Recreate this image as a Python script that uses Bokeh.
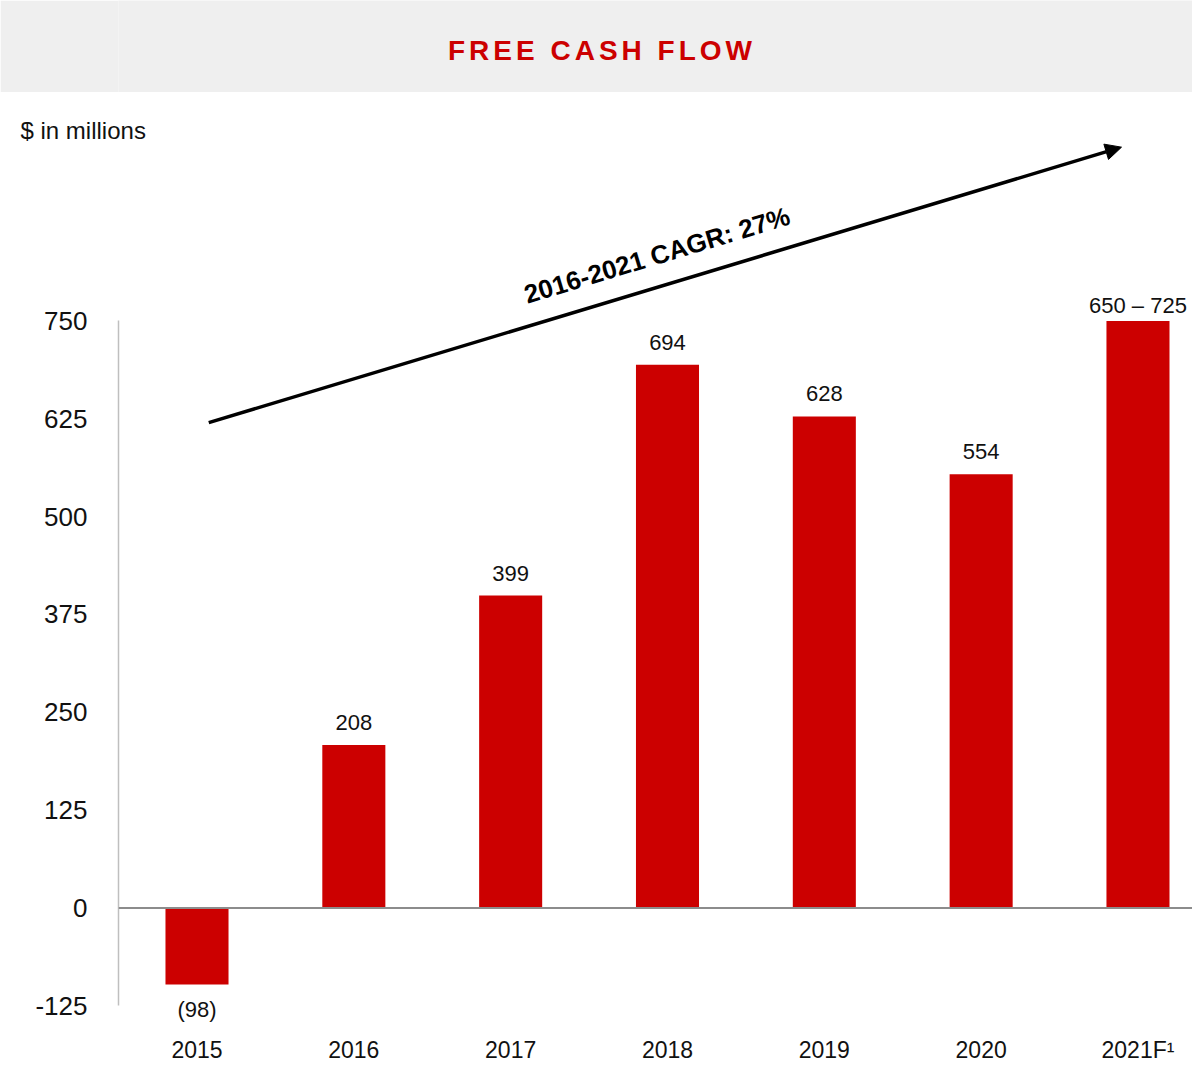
from bokeh.plotting import figure
from bokeh.models import (Range1d, FixedTicker, Span, LabelSet, Label, Arrow,
                          NormalHead, ColumnDataSource)
from bokeh.layouts import column
from bokeh.embed import file_html
from bokeh.resources import INLINE
from bokeh.core.properties import value

# ---------------- data ----------------
years = ["2015", "2016", "2017", "2018", "2019", "2020", "2021F"]
year_tick_labels = ["2015", "2016", "2017", "2018", "2019", "2020", "2021F¹"]
fcf = [-98, 208, 399, 694, 628, 554, 750]
bar_labels = ["(98)", "208", "399", "694", "628", "554", "650 – 725"]
y_ticks = [-125, 0, 125, 250, 375, 500, 625, 750]
title_text = "FREE CASH FLOW"
unit_text = "$ in millions"
cagr_text = "2016-2021 CAGR: 27%"

# ---------------- style / geometry ----------------
FONT = "Liberation Sans"
RED = "#cc0000"
INK = "#111111"
W = 1192
TITLE_H = 92
MAIN_H = 1065 - TITLE_H
LEFT = 118
TOP = 49
BOTTOM = 38
K = 0.7853            # px per $m
ZERO_Y = 910          # page y of the zero line
SLOT = 156.83         # px per category
X0 = 196.5            # page x of first category

frame_top = TITLE_H + TOP
frame_bot = TITLE_H + MAIN_H - BOTTOM
y_top = (ZERO_Y - frame_top) / K
y_bot = (ZERO_Y - frame_bot) / K
x_lo = (LEFT - X0) / SLOT
x_hi = (W - X0) / SLOT
xs = list(range(len(years)))
xr = Range1d(x_lo, x_hi)

# ---------------- title band ----------------
t = figure(width=W, height=TITLE_H, x_range=xr, y_range=Range1d(0, 1),
           toolbar_location=None, output_backend="svg",
           x_axis_location=None, y_axis_location=None,
           min_border_left=LEFT, min_border_right=0, min_border_top=0,
           min_border_bottom=0,
           background_fill_color="#efefef", border_fill_color="#efefef",
           outline_line_color=None)
t.grid.visible = False
t.add_layout(Label(x=(601.5 - X0) / SLOT, y=0.5, x_offset=-28, y_offset=-4,
                   text=title_text, text_align="center",
                   text_baseline="middle", text_font=FONT, text_font_size="28px",
                   text_font_style="bold", text_color=RED))
t.styles = {"letter-spacing": "4px"}

# ---------------- main chart ----------------
p = figure(width=W, height=MAIN_H, x_range=xr,
           y_range=Range1d(y_bot, y_top), toolbar_location=None,
           output_backend="svg", min_border_left=LEFT, min_border_right=0,
           min_border_top=TOP, min_border_bottom=BOTTOM, outline_line_color=None,
           background_fill_color="white", border_fill_color="white",
           title=unit_text)
p.grid.visible = False
p.title.align = "left"
p.title.offset = 20 - LEFT
p.title.standoff = -4
p.title.text_font = FONT
p.title.text_font_size = "24px"
p.title.text_font_style = "normal"
p.title.text_color = INK

p.vbar(x=xs, top=fcf, bottom=0, width=0.402, fill_color=RED, line_color=None)

p.add_layout(Span(location=0, dimension="width", line_color="#8c8c8c", line_width=2))

xa = p.xaxis[0]
xa.ticker = FixedTicker(ticks=xs)
xa.major_label_overrides = {i: lab for i, lab in zip(xs, year_tick_labels)}
xa.axis_line_color = None
xa.major_tick_line_color = None
xa.minor_tick_line_color = None
xa.major_tick_out = 0
xa.major_tick_in = 0
xa.major_label_standoff = 12
xa.major_label_text_font = FONT
xa.major_label_text_font_size = "23px"
xa.major_label_text_color = INK

ya = p.yaxis[0]
ya.ticker = FixedTicker(ticks=y_ticks)
ya.major_label_overrides = {v: str(v) for v in y_ticks}
ya.bounds = (min(y_ticks), max(y_ticks))
ya.axis_line_color = "#bfbfbf"
ya.axis_line_width = 1.5
ya.major_tick_line_color = None
ya.minor_tick_line_color = None
ya.major_tick_out = 0
ya.major_tick_in = 0
ya.major_label_standoff = 31
ya.major_label_text_font = FONT
ya.major_label_text_font_size = "26px"
ya.major_label_text_color = INK

yoff = [15 if v >= 0 else -32 for v in fcf]
yoff[-1] = 8
src = ColumnDataSource(dict(x=xs, y=fcf, text=bar_labels, yoff=yoff))
p.add_layout(LabelSet(x="x", y="y", text="text", y_offset="yoff", source=src,
                      text_align="center", text_baseline="alphabetic",
                      text_font=value(FONT), text_font_size="22px",
                      text_color=INK))

p.add_layout(Arrow(end=NormalHead(size=16, fill_color="black", line_color="black",
                                  line_width=1),
                   x_start=0.075, y_start=620, x_end=5.895, y_end=972,
                   line_color="black", line_width=3.5))

p.add_layout(Label(x=2.933, y=834, text=cagr_text, angle=16.83, angle_units="deg",
                   text_align="center", text_baseline="middle", text_font=FONT,
                   text_font_size="26px", text_font_style="bold", text_color="black"))

layout = column(t, p)
open("out.html", "w").write(file_html(layout, INLINE))
